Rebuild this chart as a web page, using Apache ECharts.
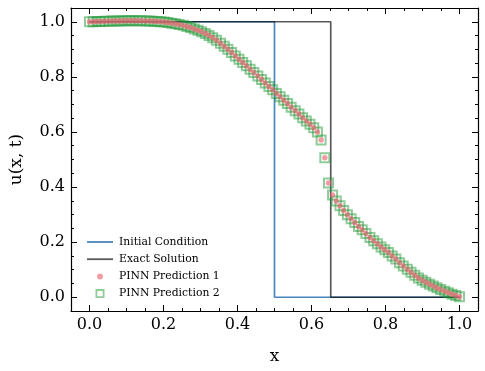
<!DOCTYPE html>
<html>
<head>
<meta charset="utf-8">
<script src="https://cdn.jsdelivr.net/npm/echarts@6/dist/echarts.min.js"></script>
<style>html,body{margin:0;padding:0;background:#fff}#c{width:485px;height:371px}</style>
</head>
<body>
<div id="c"></div>
<script>
const xGrid = [0.000,0.010,0.020,0.030,0.040,0.051,0.061,0.071,0.081,0.091,0.101,0.111,0.121,0.131,0.141,0.152,0.162,0.172,0.182,0.192,0.202,0.212,0.222,0.232,0.242,0.253,0.263,0.273,0.283,0.293,0.303,0.313,0.323,0.333,0.343,0.354,0.364,0.374,0.384,0.394,0.404,0.414,0.424,0.434,0.444,0.455,0.465,0.475,0.485,0.495,0.505,0.515,0.525,0.535,0.545,0.556,0.566,0.576,0.586,0.596,0.606,0.616,0.626,0.636,0.646,0.657,0.667,0.677,0.687,0.697,0.707,0.717,0.727,0.737,0.747,0.758,0.768,0.778,0.788,0.798,0.808,0.818,0.828,0.838,0.848,0.859,0.869,0.879,0.889,0.899,0.909,0.919,0.929,0.939,0.949,0.960,0.970,0.980,0.990,1.000];
const pinn1 = [1.000,1.000,1.001,1.001,1.002,1.002,1.003,1.003,1.003,1.004,1.004,1.004,1.004,1.004,1.004,1.003,1.003,1.002,1.001,1.000,
0.999,0.997,0.995,0.993,0.990,0.987,0.983,0.979,0.974,0.969,
0.964,0.957,0.950,0.942,0.933,0.922,0.911,0.900,0.888,0.876,
0.864,0.852,0.840,0.828,0.816,0.803,0.790,0.778,0.765,0.753,
0.740,0.728,0.715,0.703,0.690,0.677,0.665,0.652,0.640,0.628,
0.615,0.600,0.571,0.506,0.415,0.371,0.349,0.332,0.315,0.299,
0.285,0.271,0.257,0.245,0.231,0.217,0.205,0.194,0.182,0.172,
0.162,0.150,0.139,0.125,0.113,0.102,0.091,0.080,0.070,0.062,
0.054,0.047,0.041,0.034,0.028,0.022,0.016,0.011,0.006,0.002];
const pinn2 = [1.000,1.000,1.001,1.001,1.002,1.002,1.003,1.003,1.003,1.004,1.004,1.004,1.004,1.004,1.004,1.003,1.003,1.002,1.001,1.000,
0.999,0.997,0.995,0.993,0.990,0.987,0.983,0.979,0.974,0.969,
0.964,0.957,0.950,0.942,0.933,0.922,0.911,0.900,0.888,0.876,
0.864,0.852,0.840,0.828,0.816,0.803,0.790,0.778,0.765,0.753,
0.740,0.728,0.715,0.703,0.690,0.677,0.665,0.652,0.640,0.628,
0.615,0.600,0.571,0.506,0.415,0.371,0.349,0.332,0.315,0.299,
0.285,0.271,0.257,0.245,0.231,0.217,0.205,0.194,0.182,0.172,
0.162,0.150,0.139,0.125,0.113,0.102,0.091,0.080,0.070,0.062,
0.054,0.047,0.041,0.034,0.028,0.022,0.016,0.011,0.006,0.002];
const initX = [0, 0.5, 0.5, 1];
const initU = [1, 1, 0, 0];
const exactX = [0, 0.652, 0.652, 1];
const exactU = [1, 1, 0, 0];
const xTicks = [0, 0.2, 0.4, 0.6, 0.8, 1.0];
const yTicks = [0, 0.2, 0.4, 0.6, 0.8, 1.0];
const seriesNames = ['Initial Condition', 'Exact Solution', 'PINN Prediction 1', 'PINN Prediction 2'];

const zip = (a, b) => a.map((v, i) => [v, b[i]]);
const FONT = 'DejaVu Serif';
const ax = { min: -0.05, max: 1.05 };

const BLUE = 'rgba(12,93,165,0.75)';
const GRAY = 'rgba(0,0,0,0.65)';
const PINK = 'rgba(236,100,114,0.8)';
const GREEN = 'rgba(30,150,50,0.62)';

// legend icons (invisible moveTo corners keep a 26x12 box)
const ICON_LINE = 'path://M0,0 M26,12 M0,5.1 L26,5.1 L26,6.9 L0,6.9 Z';
const ICON_DOT = 'path://M0,0 M26,12 M16,6 A3,3 0 1 1 10,6 A3,3 0 1 1 16,6 Z';
const ICON_SQ = 'path://M0,0 M26,12 M8.5,1.5 L17.5,1.5 L17.5,10.5 L8.5,10.5 Z M10.3,3.3 L10.3,8.7 L15.7,8.7 L15.7,3.3 Z';

function majorAxis(pos, labels, ticks) {
  return {
    type: 'value', position: pos, min: ax.min, max: ax.max,
    axisLine: { show: true, onZero: false, lineStyle: { color: '#000', width: 1.2 } },
    axisTick: { show: true, inside: true, length: 6, customValues: ticks, lineStyle: { color: '#000', width: 1 } },
    axisLabel: labels ? { show: true, customValues: ticks, formatter: v => v.toFixed(1), fontFamily: FONT, fontSize: 16, color: '#000', margin: 6 } : { show: false },
    splitLine: { show: false }
  };
}
function minorAxis(pos) {
  return {
    type: 'value', position: pos, min: ax.min, max: ax.max, interval: 0.05,
    axisLine: { show: false, onZero: false },
    axisTick: { show: true, inside: true, length: 3, lineStyle: { color: '#000', width: 1 } },
    axisLabel: { show: false }, splitLine: { show: false }
  };
}
const xMain = majorAxis('bottom', true, xTicks);
xMain.name = 'x'; xMain.nameLocation = 'middle'; xMain.nameGap = 37;
xMain.nameTextStyle = { fontFamily: FONT, fontSize: 17, color: '#000' };
const yMain = majorAxis('left', true, yTicks);
yMain.name = 'u(x, t)'; yMain.nameLocation = 'middle'; yMain.nameGap = 46; yMain.nameRotate = 90;
yMain.nameTextStyle = { fontFamily: FONT, fontSize: 17, color: '#000' };

const chart = echarts.init(document.getElementById('c'), null, { renderer: 'canvas' });
chart.setOption({
  animation: false,
  backgroundColor: '#fff',
  grid: { left: 71, right: 7, top: 8, bottom: 60, containLabel: false },
  xAxis: [xMain, minorAxis('bottom'), majorAxis('top', false, xTicks), minorAxis('top')],
  yAxis: [yMain, minorAxis('left'), majorAxis('right', false, yTicks), minorAxis('right')],
  legend: {
    orient: 'vertical', left: 82, top: 231,
    itemWidth: 26, itemHeight: 12, itemGap: 5.2,
    textStyle: { fontFamily: FONT, fontSize: 10.8, color: '#000', lineHeight: 12, padding: [0, 0, 0, 1] },
    data: [
      { name: seriesNames[0], icon: ICON_LINE, itemStyle: { color: BLUE, borderWidth: 0 } },
      { name: seriesNames[1], icon: ICON_LINE, itemStyle: { color: GRAY, borderWidth: 0 } },
      { name: seriesNames[2], icon: ICON_DOT, itemStyle: { color: PINK, borderWidth: 0 } },
      { name: seriesNames[3], icon: ICON_SQ, itemStyle: { color: GREEN, borderWidth: 0 } }
    ]
  },
  series: [
    { name: seriesNames[0], type: 'line', data: zip(initX, initU), symbol: 'none',
      lineStyle: { color: BLUE, width: 1.7 }, itemStyle: { color: BLUE }, z: 2 },
    { name: seriesNames[1], type: 'line', data: zip(exactX, exactU), symbol: 'none',
      lineStyle: { color: GRAY, width: 1.7 }, itemStyle: { color: GRAY }, z: 3 },
    { name: seriesNames[2], type: 'scatter', data: zip(xGrid, pinn1), symbol: 'circle', symbolSize: 5.5,
      itemStyle: { color: PINK }, z: 6 },
    { name: seriesNames[3], type: 'scatter', data: zip(xGrid, pinn2), symbol: 'rect', symbolSize: 9,
      itemStyle: { color: 'rgba(0,0,0,0)', borderColor: GREEN, borderWidth: 2 }, z: 5 }
  ]
});
</script>
</body>
</html>
